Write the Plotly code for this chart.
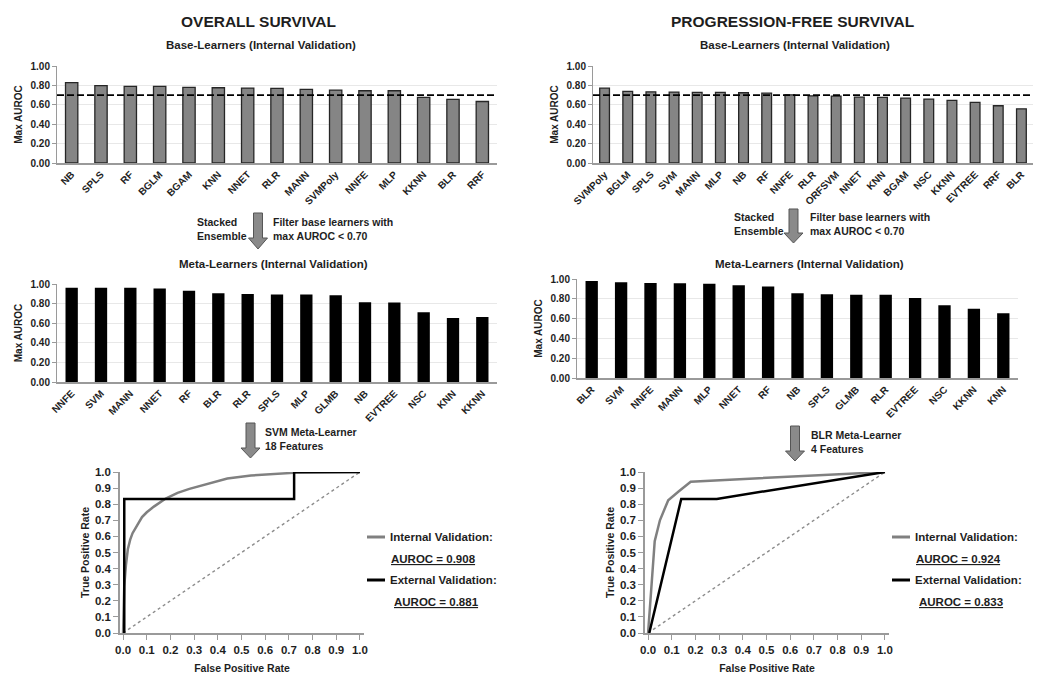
import plotly.graph_objects as go

W, H = 1050, 685

# ---------------- data ----------------
os_base_names = ["NB", "SPLS", "RF", "BGLM", "BGAM", "KNN", "NNET", "RLR", "MANN",
                 "SVMPoly", "NNFE", "MLP", "KKNN", "BLR", "RRF"]
os_base_auroc = [0.828, 0.797, 0.790, 0.790, 0.780, 0.776, 0.772, 0.769, 0.759,
                 0.752, 0.745, 0.745, 0.676, 0.655, 0.634]

pfs_base_names = ["SVMPoly", "BGLM", "SPLS", "SVM", "MANN", "MLP", "NB", "RF", "NNFE",
                  "RLR", "ORFSVM", "NNET", "KNN", "BGAM", "NSC", "KKNN", "EVTREE", "RRF", "BLR"]
pfs_base_auroc = [0.772, 0.738, 0.734, 0.731, 0.728, 0.728, 0.724, 0.720, 0.703,
                  0.693, 0.690, 0.679, 0.676, 0.669, 0.659, 0.645, 0.624, 0.590, 0.559]

os_meta_names = ["NNFE", "SVM", "MANN", "NNET", "RF", "BLR", "RLR", "SPLS", "MLP",
                 "GLMB", "NB", "EVTREE", "NSC", "KNN", "KKNN"]
os_meta_auroc = [0.963, 0.962, 0.962, 0.953, 0.932, 0.905, 0.898, 0.892, 0.892,
                 0.885, 0.814, 0.810, 0.712, 0.654, 0.664]

pfs_meta_names = ["BLR", "SVM", "NNFE", "MANN", "MLP", "NNET", "RF", "NB", "SPLS",
                  "GLMB", "RLR", "EVTREE", "NSC", "KKNN", "KNN"]
pfs_meta_auroc = [0.980, 0.966, 0.960, 0.956, 0.953, 0.936, 0.923, 0.855, 0.845,
                  0.842, 0.842, 0.808, 0.734, 0.700, 0.653]

threshold = 0.70

os_int_fpr = [0.0, 0.003, 0.005, 0.012, 0.02, 0.03, 0.04, 0.06, 0.08, 0.10, 0.13, 0.18,
              0.23, 0.28, 0.35, 0.44, 0.54, 0.65, 0.72, 1.0]
os_int_tpr = [0.0, 0.15, 0.29, 0.42, 0.52, 0.58, 0.62, 0.67, 0.72, 0.75, 0.785, 0.835,
              0.87, 0.895, 0.925, 0.96, 0.978, 0.99, 0.995, 1.0]
os_ext_fpr = [0.005, 0.005, 0.722, 0.722, 1.0]
os_ext_tpr = [0.0, 0.833, 0.833, 1.0, 1.0]

pfs_int_fpr = [0.0, 0.01, 0.028, 0.05, 0.085, 0.13, 0.18, 1.0]
pfs_int_tpr = [0.0, 0.2, 0.57, 0.70, 0.825, 0.88, 0.94, 1.0]
pfs_ext_fpr = [0.005, 0.14, 0.29, 1.0]
pfs_ext_tpr = [0.0, 0.833, 0.833, 1.0]

os_int_auc, os_ext_auc = 0.908, 0.881
pfs_int_auc, pfs_ext_auc = 0.924, 0.833

# ---------------- helpers ----------------
OFF = 8  # the page body adds an 8px margin around the figure

def px(x):
    return (x - OFF) / W

def py(y):
    return 1 - (y - OFF) / H

FONT = "Liberation Sans, Arial, sans-serif"
TXT = "#1e1e1e"
AX = "#9a9a9a"
GRID = "#e8e8e8"

fig = go.Figure()

def bar_trace(names, vals, ax, fill, outline, lw):
    return go.Bar(x=names, y=vals, xaxis="x" + ax, yaxis="y" + ax,
                  marker=dict(color=fill, line=dict(color=outline, width=lw)),
                  showlegend=False)

fig.add_trace(bar_trace(os_base_names, os_base_auroc, "", "#858585", "#262626", 1.3))
fig.add_trace(bar_trace(pfs_base_names, pfs_base_auroc, "2", "#858585", "#262626", 1.3))
fig.add_trace(bar_trace(os_meta_names, os_meta_auroc, "3", "#000000", "#000000", 0))
fig.add_trace(bar_trace(pfs_meta_names, pfs_meta_auroc, "4", "#000000", "#000000", 0))

def roc_traces(ax, ifpr, itpr, efpr, etpr):
    return [
        go.Scatter(x=[0, 1], y=[0, 1], xaxis="x" + ax, yaxis="y" + ax, mode="lines",
                   line=dict(color="#8c8c8c", width=1.4, dash="dot"), showlegend=False,
                   cliponaxis=False),
        go.Scatter(x=ifpr, y=itpr, xaxis="x" + ax, yaxis="y" + ax, mode="lines",
                   line=dict(color="#808080", width=2.5), showlegend=False,
                   name="Internal Validation", cliponaxis=False),
        go.Scatter(x=efpr, y=etpr, xaxis="x" + ax, yaxis="y" + ax, mode="lines",
                   line=dict(color="#000000", width=2.5), showlegend=False,
                   name="External Validation", cliponaxis=False),
    ]

for t in roc_traces("5", os_int_fpr, os_int_tpr, os_ext_fpr, os_ext_tpr):
    fig.add_trace(t)
for t in roc_traces("6", pfs_int_fpr, pfs_int_tpr, pfs_ext_fpr, pfs_ext_tpr):
    fig.add_trace(t)

# ---------------- axes ----------------
def bar_axes(xl, xr, yt, yb, anchor_x, anchor_y):
    xa = dict(domain=[px(xl), px(xr)], anchor=anchor_y, type="category",
              showline=True, linecolor=AX, linewidth=1.5, ticks="", tickangle=-45,
              tickfont=dict(size=10), showgrid=False, fixedrange=True, automargin=False)
    ya = dict(domain=[py(yb), py(yt)], anchor=anchor_x, range=[0, 1.0],
              tickvals=[0, 0.2, 0.4, 0.6, 0.8, 1.0], tickformat=".2f",
              showgrid=True, gridcolor=GRID, gridwidth=1, zeroline=False,
              showline=True, linecolor=AX, linewidth=1, ticks="outside", ticklen=4,
              tickcolor=AX, tickfont=dict(size=10), automargin=False,
              title=dict(text="Max AUROC", font=dict(size=10), standoff=6))
    return xa, ya

def roc_axes(xl, xr, yt, yb, anchor_x, anchor_y):
    xa = dict(domain=[px(xl), px(xr)], anchor=anchor_y, range=[-0.013, 1.017],
              tickvals=[i / 10 for i in range(11)], tickformat=".1f",
              showline=True, linecolor=AX, linewidth=1.5, ticks="outside", ticklen=5,
              tickcolor=AX, showgrid=False, zeroline=False, tickfont=dict(size=11.5),
              automargin=False,
              title=dict(text="False Positive Rate", font=dict(size=10.5), standoff=10))
    ya = dict(domain=[py(yb), py(yt)], anchor=anchor_x, range=[0, 1.0],
              tickvals=[i / 10 for i in range(11)], tickformat=".1f",
              showline=True, linecolor=AX, linewidth=1.5, ticks="outside", ticklen=5,
              tickcolor=AX, showgrid=False, zeroline=False, tickfont=dict(size=11.5),
              automargin=False,
              title=dict(text="True Positive Rate", font=dict(size=10.5), standoff=3))
    return xa, ya

xa1, ya1 = bar_axes(57, 497, 66, 163, "x", "y")
xa2, ya2 = bar_axes(593, 1033, 66, 163, "x2", "y2")
xa3, ya3 = bar_axes(57, 497, 284, 382, "x3", "y3")
xa4, ya4 = bar_axes(577, 1018, 279, 378, "x4", "y4")
xa5, ya5 = roc_axes(120, 364, 472, 633, "x5", "y5")
xa6, ya6 = roc_axes(645, 889, 472, 633, "x6", "y6")

# ---------------- shapes ----------------
shapes = []
for ax in ["", "2"]:
    shapes.append(dict(type="line", xref=("x" + ax if ax else "x") + " domain",
                       yref="y" + ax, x0=0, x1=1, y0=threshold, y1=threshold,
                       line=dict(color="#000000", width=1.8, dash="7px,3px")))

def arrow(cx, top, head_top, tip, sw=4.5, hw=9.5):
    pts = [(cx - sw, top), (cx + sw, top), (cx + sw, head_top), (cx + hw, head_top),
           (cx, tip), (cx - hw, head_top), (cx - sw, head_top)]
    path = "M " + " L ".join(f"{px(x):.5f},{py(y):.5f}" for x, y in pts) + " Z"
    return dict(type="path", xref="paper", yref="paper", path=path,
                fillcolor="#8a8a8a", line=dict(color="#555555", width=1))

shapes += [arrow(258, 213, 238, 249), arrow(793.5, 209, 233, 243),
           arrow(250.5, 423, 448, 458), arrow(795, 426, 451, 461)]

def legend_line(x0, x1, y, color):
    return dict(type="line", xref="paper", yref="paper", x0=px(x0), x1=px(x1),
                y0=py(y), y1=py(y), line=dict(color=color, width=3))

for off in [0, 525]:
    shapes.append(legend_line(367 + off, 385 + off, 537, "#808080"))
    shapes.append(legend_line(367 + off, 385 + off, 580, "#000000"))

# ---------------- annotations ----------------
ann = []

def text(x, y, s, size=11, xanchor="center", yanchor="middle", align="center"):
    ann.append(dict(x=px(x), y=py(y), xref="paper", yref="paper", text=s,
                    showarrow=False, xanchor=xanchor, yanchor=yanchor, align=align,
                    font=dict(size=size, color=TXT)))

text(258, 21, "OVERALL SURVIVAL", 15.5)
text(792.5, 21, "PROGRESSION-FREE SURVIVAL", 15.5)
text(261, 45, "Base-Learners (Internal Validation)", 11.5)
text(794.5, 45, "Base-Learners (Internal Validation)", 11.5)
text(273, 264, "Meta-Learners (Internal Validation)", 11.5)
text(809, 264, "Meta-Learners (Internal Validation)", 11.5)

text(195, 228.5, "Stacked<br>Ensemble", 10.5, xanchor="left", align="left")
text(271, 228.5, "Filter base learners with<br>max AUROC < 0.70", 10.5, xanchor="left", align="left")
text(732, 224.5, "Stacked<br>Ensemble", 10.5, xanchor="left", align="left")
text(808, 224.5, "Filter base learners with<br>max AUROC < 0.70", 10.5, xanchor="left", align="left")
text(263, 439, "SVM Meta-Learner<br>18 Features", 10.5, xanchor="left", align="left")
text(809, 442, "BLR Meta-Learner<br>4 Features", 10.5, xanchor="left", align="left")

for off, ia, ea in [(0, os_int_auc, os_ext_auc), (525, pfs_int_auc, pfs_ext_auc)]:
    text(388 + off, 537, "Internal Validation:", 11.5, xanchor="left")
    text(389 + off, 559, f"<u>AUROC = {ia:.3f}</u>", 11.5, xanchor="left")
    text(388 + off, 580, "External Validation:", 11.5, xanchor="left")
    text(392 + off, 602, f"<u>AUROC = {ea:.3f}</u>", 11.5, xanchor="left")

fig.update_layout(
    width=W, height=H, margin=dict(l=0, r=0, t=0, b=0, pad=0, autoexpand=False),
    paper_bgcolor="white", plot_bgcolor="white",
    font=dict(family=FONT, color=TXT, size=10, weight="bold"),
    bargap=0.58, showlegend=False,
    xaxis=xa1, yaxis=ya1, xaxis2=xa2, yaxis2=ya2, xaxis3=xa3, yaxis3=ya3,
    xaxis4=xa4, yaxis4=ya4, xaxis5=xa5, yaxis5=ya5, xaxis6=xa6, yaxis6=ya6,
    shapes=shapes, annotations=ann,
)

fig.write_html("out.html")
